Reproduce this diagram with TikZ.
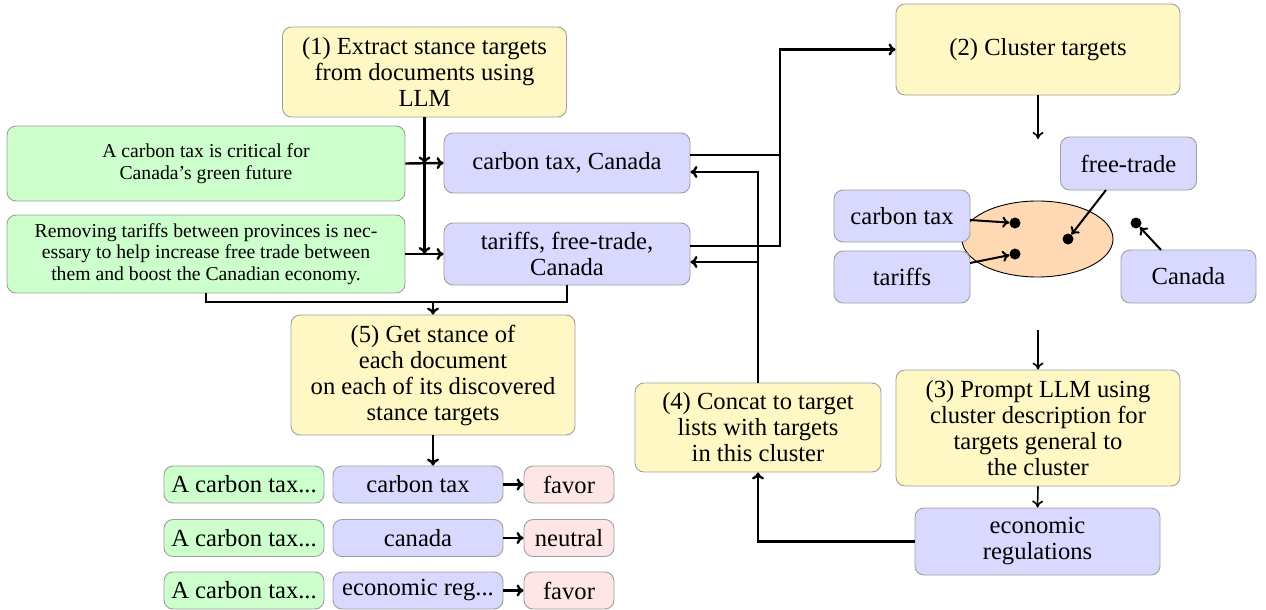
\documentclass[tikz,border=0pt]{standalone}
\usepackage{fontspec}
\setmainfont{Liberation Serif}
\usetikzlibrary{arrows.meta,calc,shapes.geometric}
\definecolor{cyel}{RGB}{255,248,196}
\definecolor{cgrn}{RGB}{204,255,204}
\definecolor{cblu}{RGB}{217,217,255}
\definecolor{cred}{RGB}{255,230,230}
\definecolor{corg}{RGB}{255,217,179}
\newcommand{\mainfs}{\rmfamily\fontsize{24.6}{26}\selectfont}
\newcommand{\smallfs}{\rmfamily\fontsize{19.7}{21.6}\selectfont}
\tikzset{
  box/.style={draw=gray!75, rounded corners=9pt, line width=0.9pt, inner sep=0pt, align=center, font=\mainfs},
  stepbox/.style={box, fill=cyel},
  docbox/.style={box, fill=cgrn, font=\smallfs},
  tgtbox/.style={box, fill=cblu},
  stbox/.style={box, fill=cred},
  sz/.style 2 args={minimum width=#1pt, minimum height=#2pt},
  conn/.style={line width=2.4pt, -{To[length=7pt,width=12pt]}},
  plain/.style={line width=2.4pt},
  thin/.style={line width=1.6pt, -{To[length=7pt,width=11pt]}},
  dot/.style={circle, fill=black, inner sep=0pt, minimum size=11pt},
}
\begin{document}
\begin{tikzpicture}[x=1pt,y=-1pt]
\useasboundingbox (0,0) rectangle (1266,610);

% step boxes
\node[stepbox, sz={284}{90}] (s1) at (424.5,72) {(1) Extract stance targets\\from documents using\\LLM};
\node[stepbox, sz={284}{91}] (s2) at (1038,49.5) {(2) Cluster targets};
\node[stepbox, sz={284}{116}] (s3) at (1038,428) {(3) Prompt LLM using\\cluster description for\\targets general to\\the cluster};
\node[stepbox, sz={246}{89}] (s4) at (758,427.5) {(4) Concat to target\\lists with targets\\in this cluster};
\node[stepbox, sz={284}{120}] (s5) at (433,375) {(5) Get stance of\\each document\\on each of its discovered\\stance targets};

% documents
\node[docbox, sz={398}{75}] (g1) at (206,163.5) {A carbon tax is critical for\\Canada's green future};
\node[docbox, sz={398}{78}] (g2) at (206,254) {Removing tariffs between provinces is nec-\\essary to help increase free trade between\\them and boost the Canadian economy.};

% target lists
\node[tgtbox, sz={246}{60}] (b1) at (567,163) {carbon tax, Canada};
\node[tgtbox, sz={246}{62}] (b2) at (567,254) {tariffs, free-trade,\\Canada};

% cluster
\node[draw=black, line width=0.9pt, fill=corg, ellipse, minimum width=151pt, minimum height=76pt, inner sep=0pt] (el) at (1037.5,239) {};
\node[tgtbox, sz={136}{53}] (ft) at (1128.5,163.5) {free-trade};
\node[tgtbox, sz={136}{52}] (ct) at (902,216) {carbon tax};
\node[tgtbox, sz={136}{52}] (tr) at (902,277) {tariffs};
\node[tgtbox, sz={135}{53}] (cn) at (1188.5,276.5) {Canada};
\node[dot] (d1) at (1015,223) {};
\node[dot] (d2) at (1015,254) {};
\node[dot] (d3) at (1068,239) {};
\node[dot] (d4) at (1136,223) {};

\node[tgtbox, sz={245}{67}] (ec) at (1037.5,541.5) {economic\\regulations};

% result rows
\node[docbox, font=\mainfs, sz={160}{37}] (r1g) at (244,484.5) {A carbon tax...};
\node[tgtbox, sz={170}{37}] (r1b) at (418,484.5) {carbon tax};
\node[stbox, sz={90}{37}] (r1r) at (569,484.5) {favor};
\node[docbox, font=\mainfs, sz={160}{37}] (r2g) at (244,538) {A carbon tax...};
\node[tgtbox, sz={170}{37}] (r2b) at (418,538) {canada};
\node[stbox, sz={90}{37}] (r2r) at (569,538) {neutral};
\node[docbox, font=\mainfs, sz={160}{37}] (r3g) at (244,590.5) {A carbon tax...};
\node[tgtbox, sz={170}{37}] (r3b) at (418,590.5) {economic reg...};
\node[stbox, sz={90}{37}] (r3r) at (569,590.5) {favor};

% connectors: step 1
\draw[conn] (g1.east) -- (b1.west);
\draw[conn] (g2.east) -- (b2.west);
\coordinate (j1) at (s1.south |- g1.east);
\coordinate (j2) at (s1.south |- g2.east);
\draw[conn] (s1.south) -- (j1);
\draw[conn] (j1) -- (j2);

% merge into step 5
\coordinate (m) at (206,302);
\draw[plain] (g2.south) |- (m) -| (b2.south);
\draw[conn] (s5.north |- m) -- (s5.north);
\draw[conn] (s5.south) -- (s5.south |- r1b.north);

% to step 2
\coordinate (o1) at ([yshift=8pt]b1.east);
\coordinate (o2) at ([yshift=8pt]b2.east);
\coordinate (bus) at (780,0);
\draw[plain] (o1) -- (bus |- o1);
\draw[conn] (o2) -- (bus |- o2) |- (s2.west);

% step 2 -> cluster -> step 3
\coordinate (c1) at (1038,139);
\coordinate (c2) at (1038,330);
\draw[thin] (s2.south) -- (c1);
\draw[thin] (c2) -- (s3.north);
\draw[thin] (s3.south) -- (ec.north);

% cluster arrows
\draw[thin, line width=2pt] (970,220) -- (d1);
\draw[thin, line width=2pt] (970,263) -- (d2);
\draw[thin, line width=2pt] (1106,190) -- (d3);
\draw[thin, line width=2pt] (1161,250) -- (d4);

% back loop
\draw[conn] (ec.west) -| (s4.south);
\coordinate (i1) at ([yshift=-9pt]b1.east);
\coordinate (i2) at ([yshift=-8pt]b2.east);
\draw[conn] (s4.north) |- (i1);
\draw[conn] (s4.north |- i2) -- (i2);

% result arrows
\draw[conn] (r1b.east) -- (r1r.west);
\draw[conn] (r2b.east) -- (r2r.west);
\draw[conn] (r3b.east) -- (r3r.west);
\end{tikzpicture}
\end{document}
